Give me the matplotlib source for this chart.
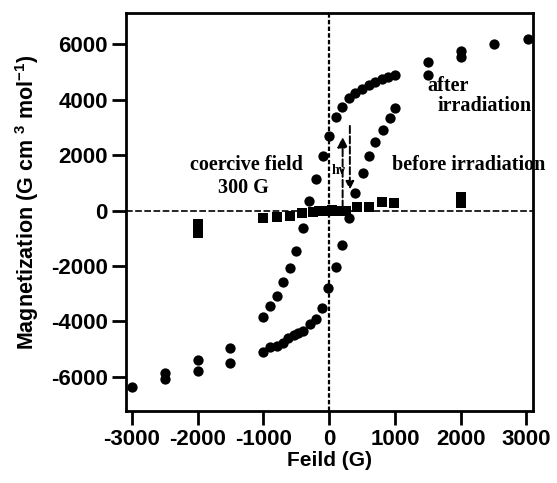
import matplotlib
matplotlib.use('Agg')
import matplotlib.pyplot as plt

plt.rcParams['axes.unicode_minus'] = False
plt.rcParams['mathtext.fontset'] = 'custom'
plt.rcParams['mathtext.bf'] = 'Liberation Sans:bold'
plt.rcParams['mathtext.rm'] = 'Liberation Sans:bold'
plt.rcParams['mathtext.default'] = 'bf'

# after irradiation (circles)
after_field = [3025, 2500, 2000, 2000, 1500, 1500,
               1000, 900, 800, 700, 600, 500, 400, 300, 200, 100,
               0, -100, -200, -300, -400, -500, -600, -700, -800, -900, -1000,
               -1000, -900, -800, -700, -620, -540, -470, -390, -290, -200, -110, -10,
               100, 200, 300, 400, 520, 600, 700, 820, 920, 1000,
               -1500, -1500, -2000, -2000, -2500, -2500, -3000]
after_mag = [6200, 6020, 5750, 5550, 5360, 4880,
             4880, 4820, 4730, 4640, 4520, 4370, 4220, 4040, 3740, 3380,
             2680, 1960, 1120, 340, -640, -1450, -2080, -2560, -3070, -3440, -3830,
             -5090, -4910, -4880, -4760, -4610, -4490, -4400, -4330, -4090, -3920, -3530, -2800,
             -2020, -1240, -280, 620, 1340, 1960, 2480, 2900, 3320, 3680,
             -4940, -5510, -5390, -5780, -5870, -6070, -6350]

# before irradiation (squares)
before_field = [-2000, -2000, -1000, -800, -600, -420, -250, -150, -50, 0, 50, 150, 250,
                420, 600, 800, 980, 2000, 2000]
before_mag = [-500, -800, -280, -220, -200, -100, -50, -30, -20, 0, 10, 0, -30,
              140, 140, 320, 260, 500, 280]

fig = plt.figure(figsize=(5.57, 4.83), dpi=100)
ax = fig.add_axes([0.226, 0.149, 0.731, 0.824])

ax.scatter(after_field, after_mag, s=55, marker='o', color='black', zorder=3, linewidths=0)
ax.scatter(before_field, before_mag, s=60, marker='s', color='black', zorder=3, linewidths=0)

ax.axhline(0, color='black', ls=(0, (4, 1.5)), lw=1.2, zorder=1)
ax.axvline(0, color='black', ls=(0, (2, 1)), lw=1.6, zorder=1)

# photo-induced arrows
ax.annotate('', xy=(205, 2750), xytext=(205, 0),
            arrowprops=dict(arrowstyle='-|>', ls='--', lw=1.4, color='black', mutation_scale=15))
ax.annotate('', xy=(315, 650), xytext=(315, 3150),
            arrowprops=dict(arrowstyle='-|>', ls='--', lw=1.4, color='black', mutation_scale=12))

serif = dict(family='Liberation Serif', fontweight='bold', fontsize=14.5)
ax.text(-2120, 1450, 'coercive field', **serif)
ax.text(-1300, 620, '300 G', ha='center', **serif)
ax.text(40, 1300, 'h\u03bd', family='Liberation Serif', fontweight='bold', fontsize=10)
ax.text(960, 1450, 'before irradiation', clip_on=False, **serif)
ax.text(1500, 4300, 'after', **serif)
ax.text(1650, 3600, 'irradiation', **serif)

ax.set_xlim(-3090, 3100)
ax.set_ylim(-7230, 7120)
ax.set_xticks(range(-3000, 3001, 1000))
ax.set_yticks(range(-6000, 6001, 2000))

for s in ax.spines.values():
    s.set_linewidth(2)
ax.tick_params(direction='out', length=10, width=2, pad=3)
for lab in ax.get_xticklabels() + ax.get_yticklabels():
    lab.set_family('Liberation Sans')
    lab.set_fontweight('bold')
    lab.set_fontsize(16)

ax.set_xlabel('Feild (G)', family='Liberation Sans', fontweight='bold', fontsize=15, labelpad=1)
ax.set_ylabel('Magnetization (G cm $^{3}$ mol$^{-1}$)', family='Liberation Sans',
              fontweight='bold', fontsize=15.5)
ax.yaxis.set_label_coords(-0.208, 0.525)

fig.savefig('out.png', dpi=100)
